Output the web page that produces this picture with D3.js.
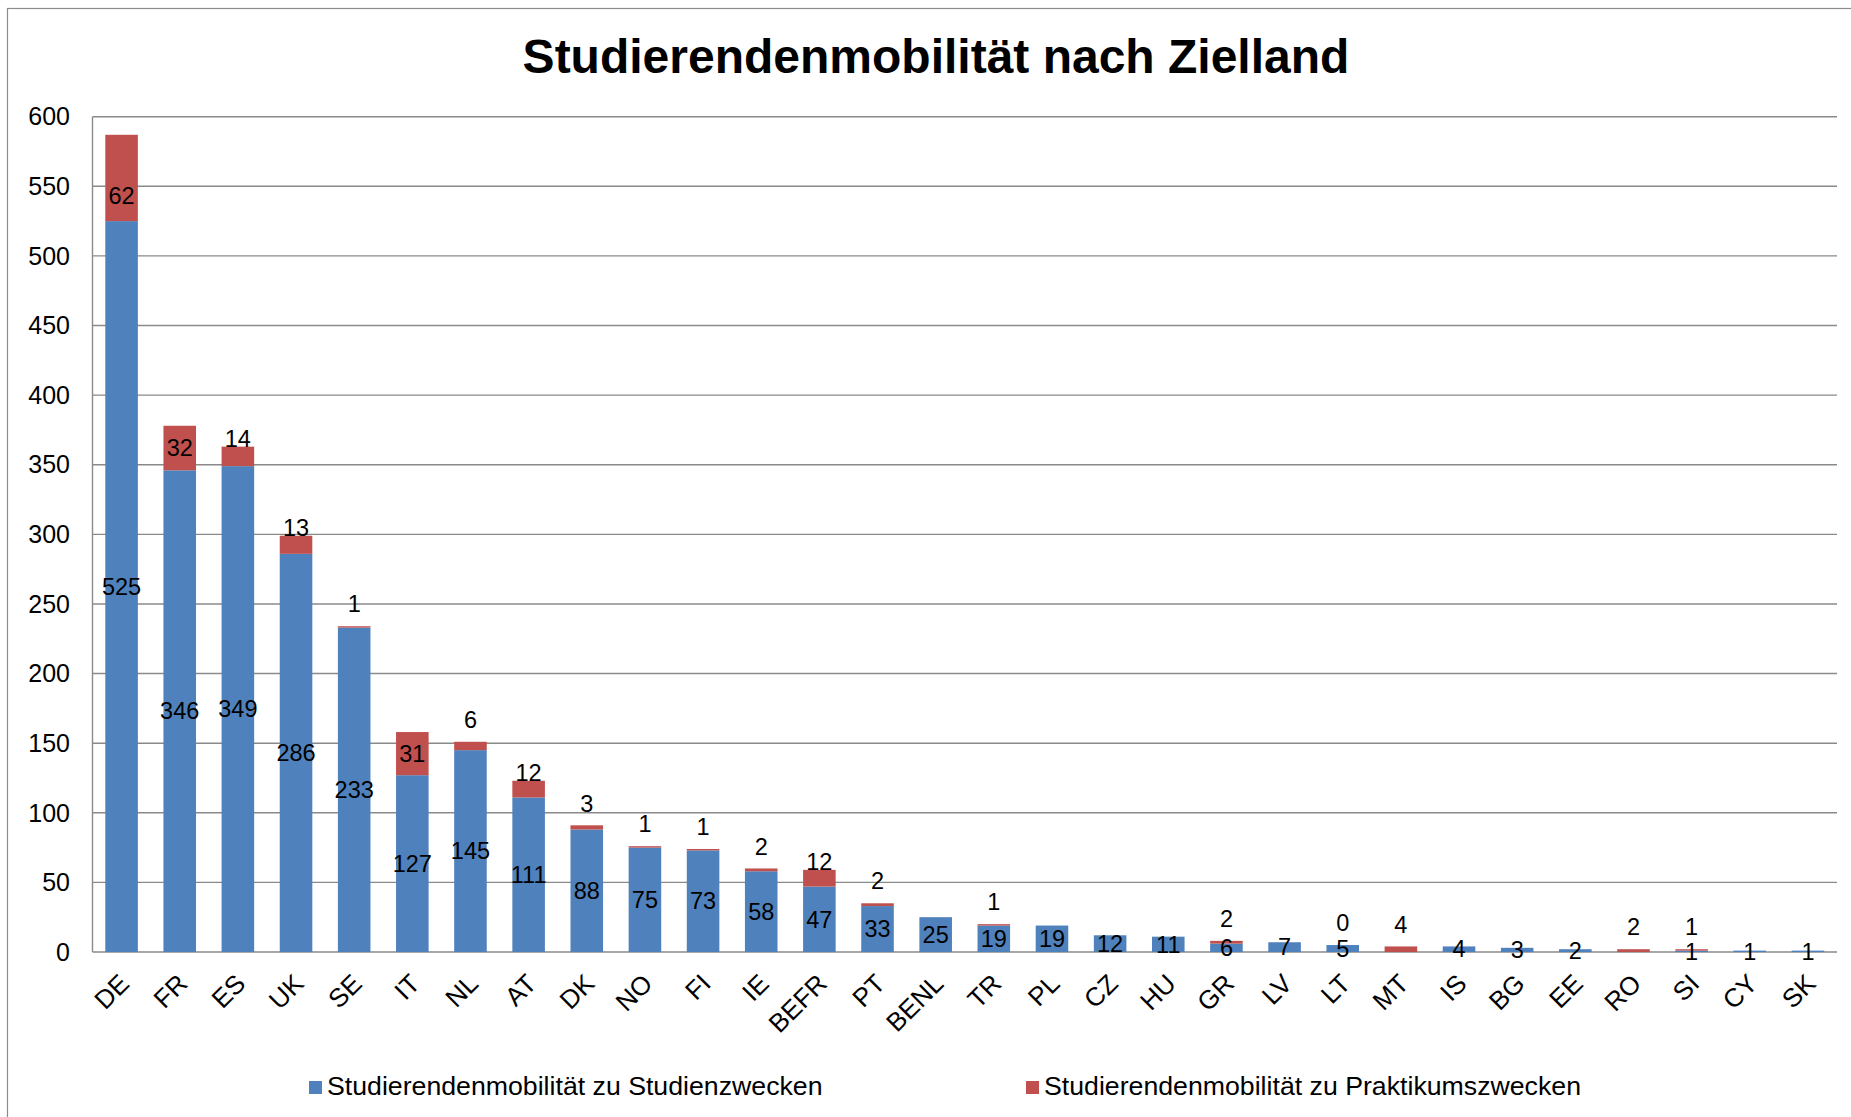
<!DOCTYPE html>
<html>
<head>
<meta charset="utf-8">
<script src="https://cdn.jsdelivr.net/npm/d3@7/dist/d3.min.js"></script>
<style>
  html, body { margin: 0; padding: 0; background: #fff; }
  svg { display: block; font-family: "Liberation Sans", Arial, sans-serif; }
</style>
</head>
<body>
<svg id="chart" width="1851" height="1117"></svg>
<script>
const categories = ["DE","FR","ES","UK","SE","IT","NL","AT","DK","NO","FI","IE","BEFR","PT","BENL","TR","PL","CZ","HU","GR","LV","LT","MT","IS","BG","EE","RO","SI","CY","SK"];
const studyValues = [525,346,349,286,233,127,145,111,88,75,73,58,47,33,25,19,19,12,11,6,7,5,null,4,3,2,null,1,1,1];
const internshipValues = [62,32,14,13,1,31,6,12,3,1,1,2,12,2,null,1,null,null,null,2,null,0,4,null,null,null,2,1,null,null];
const yTicks = [0,50,100,150,200,250,300,350,400,450,500,550,600];
const seriesNames = ["Studierendenmobilität zu Studienzwecken","Studierendenmobilität zu Praktikumszwecken"];
const titleText = "Studierendenmobilität nach Zielland";

const colors = ["#4F81BD", "#C0504D"];
const svg = d3.select("#chart");

// outer frame
svg.append("rect").attr("x", 7.5).attr("y", 8.5).attr("width", 1900).attr("height", 1200)
  .attr("fill", "none").attr("stroke", "#8c8c8c").attr("stroke-width", 1.2);

const x = d3.scaleBand().domain(categories).range([92.5, 1837]).paddingInner(0.44).paddingOuter(0.22);
const y = d3.scaleLinear().domain([0, 600]).range([952, 116.7]);

// gridlines
svg.append("g").selectAll("line").data(yTicks).join("line")
  .attr("x1", 92.5).attr("x2", 1837)
  .attr("y1", d => y(d)).attr("y2", d => y(d))
  .attr("stroke", "#8a8a8a").attr("stroke-width", 1.4);

// y axis line
svg.append("line").attr("x1", 92.5).attr("x2", 92.5).attr("y1", y(600)).attr("y2", y(0))
  .attr("stroke", "#8a8a8a").attr("stroke-width", 1.4);

// y tick labels
svg.append("g").selectAll("text").data(yTicks).join("text")
  .attr("x", 70).attr("y", d => y(d)).attr("dy", "0.35em")
  .attr("text-anchor", "end").attr("font-size", 25).attr("fill", "#000")
  .text(d => d);

// stacked data
const rows = categories.map((c, i) => ({cat: c, s: studyValues[i], p: internshipValues[i]}));

const gBars = svg.append("g");
rows.forEach(r => {
  const s = r.s || 0;
  const p = r.p || 0;
  if (s > 0) {
    gBars.append("rect").attr("x", x(r.cat)).attr("width", x.bandwidth())
      .attr("y", y(s)).attr("height", y(0) - y(s)).attr("fill", colors[0]);
  }
  if (p > 0) {
    gBars.append("rect").attr("x", x(r.cat)).attr("width", x.bandwidth())
      .attr("y", y(s + p)).attr("height", y(s) - y(s + p)).attr("fill", colors[1]);
  }
});

// labels
const gLab = svg.append("g").attr("font-size", 23.5).attr("text-anchor", "middle").attr("fill", "#000");
rows.forEach(r => {
  const s = r.s || 0;
  const p = r.p;
  const cx = x(r.cat) + x.bandwidth() / 2;
  if (r.s !== null) {
    gLab.append("text").attr("x", cx).attr("y", y(s / 2)).attr("dy", "0.35em").text(r.s);
  }
  if (p !== null) {
    const hpx = y(s) - y(s + p);
    let cy = y(s + p / 2);
    if (hpx < 12) cy = y(s + p) - 22;
    else if (hpx < 30) cy = y(s + p) - 8;
    else if (hpx > 70) cy = y(s + p / 2) + 18;
    gLab.append("text").attr("x", cx).attr("y", cy).attr("dy", "0.35em").text(p);
  }
});

// x labels
svg.append("g").selectAll("text").data(categories).join("text")
  .attr("transform", d => `translate(${x(d) + x.bandwidth() / 2 - 4},${y(0) + 20}) rotate(-45)`)
  .attr("text-anchor", "end").attr("dy", "0.72em").attr("font-size", 26).attr("fill", "#000")
  .text(d => d);

// title
svg.append("text").attr("x", 936).attr("y", 73).attr("text-anchor", "middle")
  .attr("font-size", 48).attr("font-weight", "bold").attr("fill", "#000").text(titleText);

// legend
const legendX = [309, 1026];
const leg = svg.append("g");
seriesNames.forEach((n, i) => {
  leg.append("rect").attr("x", legendX[i]).attr("y", 1081).attr("width", 13).attr("height", 13).attr("fill", colors[i]);
  leg.append("text").attr("x", legendX[i] + 18).attr("y", 1095).attr("font-size", 26.7).attr("fill", "#000").text(n);
});
</script>
</body>
</html>
